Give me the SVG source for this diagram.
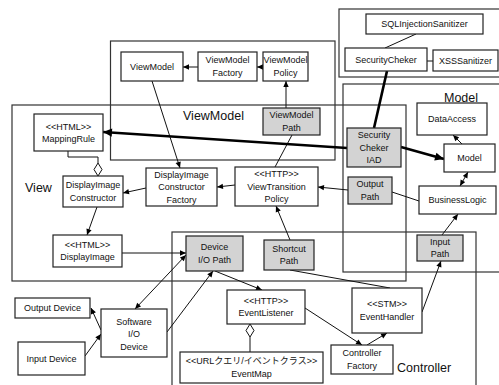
<svg xmlns="http://www.w3.org/2000/svg" width="499" height="385" viewBox="0 0 499 385">
<defs>
<marker id="ah" viewBox="0 0 10 10" refX="10" refY="5" markerWidth="7" markerHeight="6" orient="auto-start-reverse" markerUnits="userSpaceOnUse">
<path d="M0,0.5 L10,5 L0,9.5 z" fill="#000"/>
</marker>
<marker id="ahT" viewBox="0 0 10 10" refX="10" refY="5" markerWidth="11" markerHeight="9" orient="auto-start-reverse" markerUnits="userSpaceOnUse">
<path d="M0,0.5 L10,5 L0,9.5 z" fill="#000"/>
</marker>
</defs>
<style>
.box{fill:#fff;stroke:#222;stroke-width:1.2}
.gray{fill:#d3d3d3;stroke:#222;stroke-width:1.2}
.cont{fill:none;stroke:#333;stroke-width:1.2}
.e{fill:none;stroke:#111;stroke-width:1}
.ea{fill:none;stroke:#111;stroke-width:1;marker-end:url(#ah)}
.eb{fill:none;stroke:#111;stroke-width:1;marker-end:url(#ah);marker-start:url(#ah)}
.t{fill:none;stroke:#000;stroke-width:2.6}
.ta{fill:none;stroke:#000;stroke-width:2.6;marker-end:url(#ahT)}
.dia{fill:#fff;stroke:#111;stroke-width:1}
text{font-family:"Liberation Sans",Arial,sans-serif;font-size:9px;fill:#111;text-anchor:middle}
.lbl{font-size:12.5px;text-anchor:start}
</style>
<rect width="499" height="385" fill="#fff"/>

<g id="containers">
<rect class="cont" x="110.5" y="41" width="224.5" height="119"/>
<rect class="cont" x="12" y="105" width="394" height="176"/>
<rect class="cont" x="343" y="84" width="170" height="188"/>
<rect class="cont" x="339" y="9" width="170" height="68"/>
<rect class="cont" x="172" y="232" width="304" height="170"/>
<text class="lbl" x="183" y="120">ViewModel</text>
<text class="lbl" x="25" y="192">View</text>
<text class="lbl" x="444" y="102">Model</text>
<text class="lbl" x="397" y="372">Controller</text>
</g>

<g id="connectors">
<line class="ea" x1="198" y1="67" x2="183" y2="67"/>
<line class="ea" x1="263" y1="67" x2="257" y2="67"/>
<line class="ea" x1="286" y1="108" x2="286" y2="81"/>
<line class="ea" x1="152" y1="81" x2="180" y2="168"/>
<line class="e" x1="292" y1="135" x2="275" y2="167"/>
<line class="ta" x1="347" y1="148" x2="103" y2="132"/>
<line class="t" x1="387" y1="71" x2="374" y2="128"/>
<line class="ta" x1="401" y1="147" x2="444" y2="159"/>
<line class="e" x1="416" y1="34" x2="385" y2="48"/>
<line class="e" x1="427" y1="61" x2="433" y2="61"/>
<line class="ea" x1="462" y1="144" x2="453" y2="135"/>
<line class="eb" x1="468" y1="172" x2="460" y2="186"/>
<line class="e" x1="392" y1="192" x2="419" y2="201"/>
<line class="ea" x1="348" y1="190" x2="318" y2="187"/>
<line class="ea" x1="235" y1="185" x2="217" y2="187"/>
<line class="ea" x1="146" y1="188" x2="123" y2="193"/>
<polyline class="e" points="68,151 68,157 98,157 98,163"/>
<polygon class="dia" points="98,163 102,169.5 98,176 94,169.5"/>
<line class="ea" x1="97" y1="207" x2="87" y2="235"/>
<line class="ea" x1="122" y1="253" x2="186" y2="253"/>
<line class="eb" x1="186" y1="255" x2="135" y2="309"/>
<line class="ea" x1="167" y1="332" x2="213" y2="271"/>
<line class="ea" x1="101" y1="330" x2="91" y2="308"/>
<line class="ea" x1="85" y1="356" x2="101" y2="334"/>
<line class="ea" x1="215" y1="271" x2="262" y2="290"/>
<line class="ea" x1="290" y1="240" x2="276" y2="206"/>
<line class="e" x1="290" y1="270" x2="390" y2="288"/>
<line class="ea" x1="305" y1="308" x2="362" y2="345"/>
<line class="ea" x1="367" y1="345" x2="387" y2="333"/>
<line class="ea" x1="422" y1="312" x2="441" y2="261"/>
<line class="ea" x1="442" y1="235" x2="458" y2="214"/>
<polygon class="dia" points="250,324 254,330.5 250,337 246,330.5"/>
<line class="e" x1="250" y1="337" x2="250" y2="352"/>
</g>

<g id="mappingRule"><rect class="box" x="34" y="114" width="69" height="37"/><text x="68.5" y="129.5">&lt;&lt;HTML&gt;&gt;</text><text x="68.5" y="142">MappingRule</text></g>
<g id="displayImageConstructor"><rect class="box" x="63" y="176" width="60" height="31"/><text x="93" y="188.4">DisplayImage</text><text x="93" y="200.9">Constructor</text></g>
<g id="displayImageConstructorFactory"><rect class="box" x="146" y="168" width="71" height="38"/><text x="181.5" y="177.7">DisplayImage</text><text x="181.5" y="190.2">Constructor</text><text x="181.5" y="202.7">Factory</text></g>
<g id="viewTransitionPolicy"><rect class="box" x="235" y="167" width="83" height="39"/><text x="276.5" y="177.2">&lt;&lt;HTTP&gt;&gt;</text><text x="276.5" y="189.7">ViewTransition</text><text x="276.5" y="202.2">Policy</text></g>
<g id="displayImage"><rect class="box" x="53" y="235" width="69" height="32"/><text x="87.5" y="247.9">&lt;&lt;HTML&gt;&gt;</text><text x="87.5" y="260.4">DisplayImage</text></g>
<g id="deviceIOPath"><rect class="gray" x="186" y="236" width="57" height="35"/><text x="214.5" y="250.4">Device</text><text x="214.5" y="262.9">I/O Path</text></g>
<g id="shortcutPath"><rect class="gray" x="264" y="240" width="50" height="30"/><text x="289" y="251.9">Shortcut</text><text x="289" y="264.4">Path</text></g>
<g id="outputPath"><rect class="gray" x="348" y="177" width="44" height="27"/><text x="370" y="187.4">Output</text><text x="370" y="199.9">Path</text></g>
<g id="securityChekerIAD"><rect class="gray" x="347" y="128" width="54" height="39"/><text x="374" y="138.2">Security</text><text x="374" y="150.7">Cheker</text><text x="374" y="163.2">IAD</text></g>
<g id="viewModelPath"><rect class="gray" x="263" y="108" width="57" height="27"/><text x="291.5" y="118.4">ViewModel</text><text x="291.5" y="130.9">Path</text></g>
<g id="viewModel"><rect class="box" x="121" y="52" width="62" height="29"/><text x="152" y="69.7">ViewModel</text></g>
<g id="viewModelFactory"><rect class="box" x="198" y="52" width="59" height="29"/><text x="227.5" y="63.4">ViewModel</text><text x="227.5" y="75.9">Factory</text></g>
<g id="viewModelPolicy"><rect class="box" x="263" y="52" width="45" height="29"/><text x="285.5" y="63.4">ViewModel</text><text x="285.5" y="75.9">Policy</text></g>
<g id="sqlInjectionSanitizer"><rect class="box" x="366" y="14" width="117" height="20"/><text x="424.5" y="27.2">SQLInjectionSanitizer</text></g>
<g id="securityCheker"><rect class="box" x="345" y="48" width="82" height="23"/><text x="386" y="62.7">SecurityCheker</text></g>
<g id="xssSanitizer"><rect class="box" x="433" y="50" width="65" height="21"/><text x="465.5" y="63.7">XSSSanitizer</text></g>
<g id="dataAccess"><rect class="box" x="417" y="103" width="70" height="32"/><text x="452" y="122.2">DataAccess</text></g>
<g id="model"><rect class="box" x="444" y="144" width="51" height="28"/><text x="469.5" y="161.2">Model</text></g>
<g id="businessLogic"><rect class="box" x="419" y="186" width="77" height="28"/><text x="457.5" y="203.2">BusinessLogic</text></g>
<g id="inputPath"><rect class="gray" x="417" y="235" width="46" height="26"/><text x="440" y="244.9">Input</text><text x="440" y="257.4">Path</text></g>
<g id="eventHandler"><rect class="box" x="352" y="288" width="70" height="45"/><text x="387" y="307.4">&lt;&lt;STM&gt;&gt;</text><text x="387" y="319.9">EventHandler</text></g>
<g id="controllerFactory"><rect class="box" x="331" y="345" width="62" height="29"/><text x="362" y="356.4">Controller</text><text x="362" y="368.9">Factory</text></g>
<g id="eventListener"><rect class="box" x="227" y="290" width="78" height="34"/><text x="266" y="303.9">&lt;&lt;HTTP&gt;&gt;</text><text x="266" y="316.4">EventListener</text></g>
<g id="eventMap"><rect class="box" x="180" y="352" width="143" height="31"/><text x="251.5" y="364.4" style="font-family:'Liberation Sans','Noto Sans CJK JP',sans-serif">&lt;&lt;URLクエリ/イベントクラス&gt;&gt;</text><text x="251.5" y="376.9">EventMap</text></g>
<g id="softwareIODevice"><rect class="box" x="101" y="309" width="66" height="48"/><text x="134" y="324.7">Software</text><text x="134" y="337.2">I/O</text><text x="134" y="349.7">Device</text></g>
<g id="outputDevice"><rect class="box" x="15" y="298" width="75" height="20"/><text x="52.5" y="311.2">Output Device</text></g>
<g id="inputDevice"><rect class="box" x="18" y="342" width="67" height="33"/><text x="51.5" y="361.7">Input Device</text></g>
</svg>
